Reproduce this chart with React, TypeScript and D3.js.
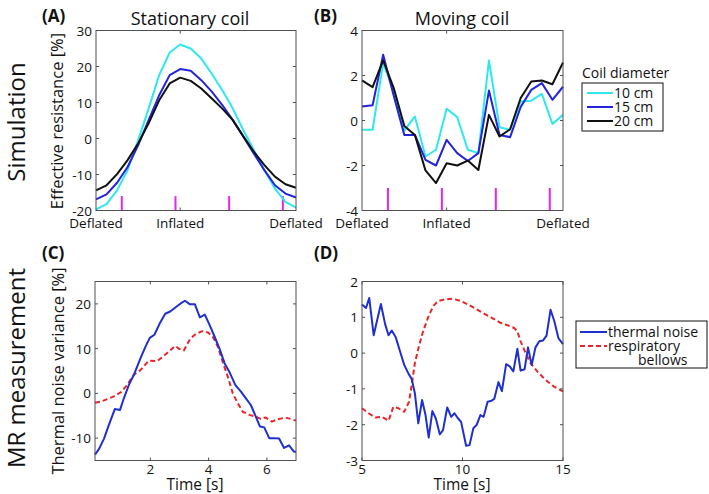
import React from "react";
import * as d3 from "d3";

// ---------- Data ----------
const simIndex = d3.range(1, 21); // 20 simulated positions
const stationary10 = [-19.7, -18.2, -14.4, -8.8, -0.5, 8.3, 17.6, 23.9, 26.1, 25, 22.2, 18, 13.4, 8.3, 2.3, -3.2, -8.8, -13.9, -17.6, -19.2];
const stationary15 = [-16.9, -15.5, -12.3, -7.9, -1.9, 5.1, 12, 17.6, 19.3, 18.8, 16.2, 13, 9.3, 5.1, 0.5, -4.2, -8.8, -13, -15.3, -16.4];
const stationary20 = [-14.4, -13, -9.9, -6, -1.4, 4.2, 10.6, 15.3, 16.9, 16, 13.9, 11.1, 8.3, 5.1, 0.6, -3.7, -7.4, -10.6, -12.7, -13.7];
const moving10 = [-0.41, -0.41, 2.55, 1.3, -0.45, 0.18, -1.6, -1.3, 0.52, 0.15, -1.3, -1.45, 2.67, -0.3, -0.41, 0.84, 0.88, 1.18, -0.15, 0.25];
const moving15 = [0.62, 0.68, 2.92, 1.1, -0.64, -0.64, -1.75, -2.0, -0.86, -1.45, -1.8, -1.45, 1.33, -0.64, -0.74, 0.6, 1.36, 1.66, 0.92, 1.5];
const moving20 = [1.78, 1.48, 2.67, 1.44, -0.24, -0.64, -2.22, -2.78, -1.9, -2.0, -1.78, -2.2, 0.25, -0.71, -0.39, 1.0, 1.73, 1.78, 1.61, 2.58];
const markerPositions = [3.45, 8.55, 13.65, 18.75];
const simTickValues = [1, 9, 20];
const simTickLabels = ["Deflated", "Inflated", "Deflated"];
const coilLabels = ["10 cm", "15 cm", "20 cm"];

const cTimeNoise = [0.1, 0.24, 0.41, 0.58, 0.78, 0.96, 1.09, 1.26, 1.43, 1.66, 1.83, 1.98, 2.14, 2.32, 2.51, 2.68, 2.88, 3.04, 3.19, 3.36, 3.53, 3.7, 3.87, 4.04, 4.21, 4.38, 4.55, 4.72, 4.92, 5.11, 5.28, 5.45, 5.62, 5.76, 5.91, 6.08, 6.25, 6.42, 6.59, 6.76, 6.93, 7.0];
const cNoise = [-13.7, -12.4, -10.1, -7.0, -3.5, -3.7, -1.1, 1.85, 4.1, 7.8, 10.4, 12.4, 13.1, 15.6, 17.8, 18.3, 19.3, 20.1, 20.7, 19.9, 19.9, 17.0, 17.6, 15.2, 12.6, 9.9, 6.7, 4.7, 1.85, 0.37, -1.1, -2.6, -5.2, -7.4, -7.6, -10.0, -10.0, -10.1, -12.2, -11.6, -13.0, -13.1];
const cTimeBellows = [0.1, 0.3, 0.53, 0.75, 0.98, 1.2, 1.43, 1.66, 1.94, 2.23, 2.45, 2.68, 2.85, 3.0, 3.15, 3.36, 3.56, 3.79, 3.98, 4.15, 4.32, 4.49, 4.66, 4.83, 5.0, 5.17, 5.4, 5.62, 5.79, 5.96, 6.17, 6.36, 6.64, 6.81, 7.0];
const cBellows = [-2.1, -1.85, -1.26, -0.67, 0.2, 1.85, 4.1, 5.2, 7.3, 7.2, 8.3, 9.6, 10.6, 9.9, 9.6, 12.1, 13.3, 13.9, 13.6, 12.6, 10.4, 6.9, 3.7, 0, -2.2, -4.1, -4.8, -5.2, -5.7, -5.4, -6.3, -5.8, -5.4, -5.7, -6.1];

const dTimeNoise = [5.0, 5.2, 5.36, 5.58, 5.94, 6.15, 6.32, 6.48, 6.68, 6.89, 7.1, 7.3, 7.47, 7.63, 7.8, 7.99, 8.16, 8.32, 8.5, 8.67, 8.87, 9.03, 9.24, 9.44, 9.6, 9.77, 9.93, 10.18, 10.35, 10.54, 10.71, 10.89, 11.05, 11.25, 11.41, 11.58, 11.79, 11.96, 12.17, 12.35, 12.53, 12.73, 12.89, 13.09, 13.26, 13.44, 13.63, 13.82, 14.0, 14.18, 14.38, 14.57, 14.77, 15.0];
const dNoise = [1.36, 1.26, 1.54, 0.5, 1.37, 0.81, 0.5, 0.63, 0.44, 0.05, -0.33, -0.56, -0.72, -1.12, -1.96, -1.31, -1.73, -2.36, -1.62, -1.82, -2.27, -2.15, -1.52, -1.78, -1.68, -1.82, -1.92, -2.59, -2.57, -2.1, -2.0, -1.73, -1.78, -1.36, -1.34, -1.28, -0.81, -1.06, -0.31, -0.37, -0.51, 0.12, -0.49, -0.45, 0.16, -0.33, 0.16, 0.33, 0.35, 0.49, 1.21, 0.89, 0.42, 0.25];
const dTimeBellows = [5.0, 5.33, 5.66, 5.99, 6.32, 6.56, 6.81, 7.1, 7.34, 7.5, 7.63, 7.83, 8.04, 8.29, 8.54, 8.78, 9.11, 9.52, 9.93, 10.43, 10.92, 11.41, 11.91, 12.24, 12.57, 12.73, 12.89, 13.14, 13.39, 13.72, 14.13, 14.54, 15.0];
const dBellows = [-1.54, -1.68, -1.8, -1.78, -1.89, -1.5, -1.54, -1.64, -1.36, -0.79, -0.28, 0.19, 0.61, 1.0, 1.31, 1.45, 1.5, 1.52, 1.45, 1.31, 1.15, 1.0, 0.84, 0.78, 0.7, 0.61, 0.33, 0.0, -0.28, -0.51, -0.75, -0.93, -1.07];
const measLabels = ["thermal noise", "respiratory", "bellows"];

// ---------- Styles ----------
const FONT = "'Open Sans', 'Noto Sans', sans-serif";
const CYAN = "#2ee8ee";
const BLUE15 = "#2323d8";
const BLACK = "#111111";
const MAGENTA = "#e626e6";
const NOISE = "#1f2fd0";
const RED = "#e8262a";
const AXIS = "#505050";
const TICK_FS = 13.5;

type Series = { x: number[]; y: number[]; color: string; dash?: string };

interface PanelProps {
  left: number; right: number; top: number; bottom: number;
  xDomain: [number, number]; yDomain: [number, number];
  yTicks: number[];
  xTicks: number[]; xTickLabels?: string[]; xTickMarks?: number[];
  xLabelOffset: number;
  series: Series[];
  markers?: number[];
  markerTop?: number;
}

function Panel(p: PanelProps) {
  const x = d3.scaleLinear().domain(p.xDomain).range([p.left, p.right]);
  const y = d3.scaleLinear().domain(p.yDomain).range([p.bottom, p.top]);
  const tl = 3;
  const marks = p.xTickMarks ?? p.xTicks;
  return (
    <g>
      {p.markers && p.markers.map((m, i) => (
        <line key={"m" + i} x1={x(m)} x2={x(m)} y1={y(p.yDomain[0])} y2={y(p.markerTop!)} stroke={MAGENTA} strokeWidth={2} />
      ))}
      {p.series.map((s, i) => {
        const line = d3.line<number>().x((_, j) => x(s.x[j])).y((v) => y(v));
        return <path key={"s" + i} d={line(s.y) || ""} fill="none" stroke={s.color} strokeWidth={2} strokeDasharray={s.dash} strokeLinejoin="round" />;
      })}
      <rect x={p.left} y={p.top} width={p.right - p.left} height={p.bottom - p.top} fill="none" stroke={AXIS} strokeWidth={1} />
      {p.yTicks.map((t, i) => (
        <g key={"yt" + i}>
          <line x1={p.left} x2={p.left + tl} y1={y(t)} y2={y(t)} stroke={AXIS} />
          <line x1={p.right} x2={p.right - tl} y1={y(t)} y2={y(t)} stroke={AXIS} />
          <text x={p.left - 4} y={y(t) + 5} textAnchor="end" fontSize={TICK_FS} fontFamily={FONT} fill="#111">{t}</text>
        </g>
      ))}
      {marks.map((t, i) => (
        <g key={"xm" + i}>
          <line x1={x(t)} x2={x(t)} y1={p.bottom} y2={p.bottom - tl} stroke={AXIS} />
          <line x1={x(t)} x2={x(t)} y1={p.top} y2={p.top + tl} stroke={AXIS} />
        </g>
      ))}
      {p.xTicks.map((t, i) => (
        <text key={"xl" + i} x={x(t)} y={p.bottom + p.xLabelOffset} textAnchor="middle" fontSize={TICK_FS} fontFamily={FONT} fill="#111">
          {p.xTickLabels ? p.xTickLabels[i] : t}
        </text>
      ))}
    </g>
  );
}

export default function App() {
  const W = 709, H = 494;
  const simColors = [CYAN, BLUE15, BLACK];
  return (
    <svg width={W} height={H} style={{ position: "absolute", left: 0, top: 0, background: "#fff" }} fontFamily={FONT}>
      <rect width={W} height={H} fill="#fff" />
      {/* Row labels */}
      <text transform="translate(25,122) rotate(-90)" textAnchor="middle" fontSize={24} fill="#111">Simulation</text>
      <text transform="translate(25,368) rotate(-90)" textAnchor="middle" fontSize={24} fill="#111">MR measurement</text>
      {/* Panel labels */}
      <text x={42} y={22} fontSize={17} fontWeight="bold" fill="#111">(A)</text>
      <text x={314} y={22} fontSize={17} fontWeight="bold" fill="#111">(B)</text>
      <text x={42} y={259} fontSize={17} fontWeight="bold" fill="#111">(C)</text>
      <text x={314} y={259} fontSize={17} fontWeight="bold" fill="#111">(D)</text>
      {/* Titles */}
      <text x={190} y={25} textAnchor="middle" fontSize={18} fill="#111">Stationary coil</text>
      <text x={462} y={25} textAnchor="middle" fontSize={18} fill="#111">Moving coil</text>
      {/* Y labels */}
      <text transform="translate(63,121) rotate(-90)" textAnchor="middle" fontSize={16.5} fill="#111">Effective resistance [%]</text>
      <text transform="translate(64,371) rotate(-90)" textAnchor="middle" fontSize={16.5} fill="#111">Thermal noise variance [%]</text>

      <Panel left={96} right={296} top={30.5} bottom={210.5} xDomain={[1, 20]} yDomain={[-20, 30]}
        yTicks={[-20, -10, 0, 10, 20, 30]} xTicks={simTickValues} xTickLabels={simTickLabels} xTickMarks={[9]}
        xLabelOffset={17} markers={markerPositions} markerTop={-16}
        series={[stationary10, stationary15, stationary20].map((s, i) => ({ x: simIndex, y: s, color: simColors[i] }))} />
      <Panel left={362} right={563} top={30.5} bottom={210.5} xDomain={[1, 20]} yDomain={[-4, 4]}
        yTicks={[-4, -2, 0, 2, 4]} xTicks={simTickValues} xTickLabels={simTickLabels} xTickMarks={[9]}
        xLabelOffset={17} markers={markerPositions} markerTop={-3}
        series={[moving10, moving15, moving20].map((s, i) => ({ x: simIndex, y: s, color: simColors[i] }))} />
      <Panel left={95} right={296} top={281.5} bottom={460.5} xDomain={[0.1, 7]} yDomain={[-15, 25]}
        yTicks={[-10, 0, 10, 20]} xTicks={[2, 4, 6]} xLabelOffset={13}
        series={[
          { x: cTimeBellows, y: cBellows, color: RED, dash: "5,3" },
          { x: cTimeNoise, y: cNoise, color: NOISE },
        ]} />
      <Panel left={362} right={563} top={281.5} bottom={460.5} xDomain={[5, 15]} yDomain={[-3, 2]}
        yTicks={[-3, -2, -1, 0, 1, 2]} xTicks={[5, 10, 15]} xLabelOffset={13}
        series={[
          { x: dTimeBellows, y: dBellows, color: RED, dash: "5,3" },
          { x: dTimeNoise, y: dNoise, color: NOISE },
        ]} />

      <text x={195} y={489.5} textAnchor="middle" fontSize={15.5} fill="#111">Time [s]</text>
      <text x={462} y={489.5} textAnchor="middle" fontSize={15.5} fill="#111">Time [s]</text>

      {/* Legend 1 */}
      <text x={582} y={78} fontSize={14} fill="#111">Coil diameter</text>
      <rect x={582} y={83} width={81} height={48} fill="#fff" stroke="#111" strokeWidth={1} />
      {coilLabels.map((l, i) => (
        <g key={"l1" + i}>
          <line x1={587} x2={613} y1={93 + i * 14} y2={93 + i * 14} stroke={simColors[i]} strokeWidth={2} />
          <text x={614} y={98 + i * 14} fontSize={14} fill="#111">{l}</text>
        </g>
      ))}
      {/* Legend 2 */}
      <rect x={576} y={321} width={131} height={47} fill="#fff" stroke="#111" strokeWidth={1} />
      <line x1={580} x2={607} y1={332} y2={332} stroke={NOISE} strokeWidth={2} />
      <text x={608} y={337} fontSize={14} fill="#111">{measLabels[0]}</text>
      <line x1={580} x2={607} y1={346} y2={346} stroke={RED} strokeWidth={2} strokeDasharray="5,3" />
      <text x={608} y={350.5} fontSize={14} fill="#111">{measLabels[1]}</text>
      <text x={638} y={365} fontSize={14} fill="#111">{measLabels[2]}</text>
    </svg>
  );
}
